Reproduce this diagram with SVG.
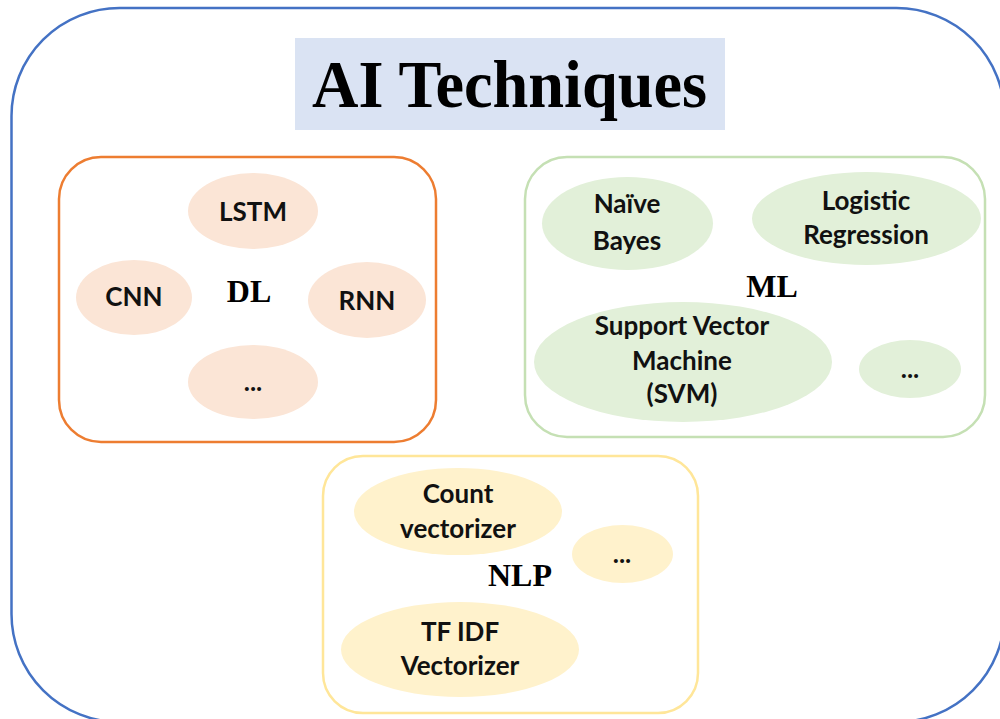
<svg xmlns="http://www.w3.org/2000/svg" width="1000" height="719" viewBox="0 0 1000 719">
  <style>
    .frame { fill: #ffffff; stroke: #4472C4; stroke-width: 2.5; }
    .title-bg { fill: #DAE3F3; }
    .title { font-family: "Liberation Serif", "Times New Roman", serif; font-weight: bold; font-size: 67px; fill: #000; }
    .group-label { font-family: "Liberation Serif", "Times New Roman", serif; font-weight: bold; font-size: 32px; fill: #000; text-anchor: middle; }
    .item { font-family: Lato, "Open Sans", "Liberation Sans", sans-serif; font-weight: bold; font-size: 26px; fill: #111; text-anchor: middle; }
    .box-dl { fill: #ffffff; stroke: #ED7D31; stroke-width: 2.5; }
    .box-ml { fill: #ffffff; stroke: #C5E0B4; stroke-width: 2.5; }
    .box-nlp { fill: #ffffff; stroke: #FFE699; stroke-width: 2.5; }
    .el-dl { fill: #FBE5D6; }
    .el-ml { fill: #E2F0D9; }
    .el-nlp { fill: #FFF2CC; }
  </style>

  <!-- outer frame -->
  <rect class="frame" x="11.5" y="8" width="993" height="714" rx="108" ry="108"/>

  <!-- title -->
  <g id="title">
    <rect class="title-bg" x="295" y="38" width="430" height="92"/>
    <text class="title" x="312" y="107" textLength="395" lengthAdjust="spacingAndGlyphs">AI Techniques</text>
  </g>

  <!-- connectors: none in this figure -->
  <g id="connectors"/>

  <!-- Deep learning group -->
  <g id="dl">
    <rect class="box-dl" x="59" y="157" width="377" height="285" rx="42" ry="42"/>
    <text class="group-label" x="249" y="302">DL</text>
    <g id="dl-lstm">
      <ellipse class="el-dl" cx="253" cy="211" rx="65" ry="38"/>
      <text class="item" x="253" y="221">LSTM</text>
    </g>
    <g id="dl-cnn">
      <ellipse class="el-dl" cx="134" cy="297.5" rx="58" ry="37.5"/>
      <text class="item" x="134" y="306">CNN</text>
    </g>
    <g id="dl-rnn">
      <ellipse class="el-dl" cx="367" cy="300" rx="59" ry="38"/>
      <text class="item" x="367" y="310">RNN</text>
    </g>
    <g id="dl-more">
      <ellipse class="el-dl" cx="253" cy="382" rx="65" ry="37"/>
      <text class="item" x="253" y="391">...</text>
    </g>
  </g>

  <!-- Machine learning group -->
  <g id="ml">
    <rect class="box-ml" x="525" y="157" width="460" height="280" rx="42" ry="42"/>
    <text class="group-label" x="772" y="297">ML</text>
    <g id="ml-nb">
      <ellipse class="el-ml" cx="627.5" cy="223.5" rx="85.5" ry="46.5"/>
      <text class="item" x="627" y="213">Naïve</text>
      <text class="item" x="627" y="250">Bayes</text>
    </g>
    <g id="ml-lr">
      <ellipse class="el-ml" cx="866.5" cy="218.5" rx="114.5" ry="46.5"/>
      <text class="item" x="866" y="210">Logistic</text>
      <text class="item" x="866" y="244">Regression</text>
    </g>
    <g id="ml-svm">
      <ellipse class="el-ml" cx="683" cy="362" rx="149" ry="60"/>
      <text class="item" x="682" y="335">Support Vector</text>
      <text class="item" x="682" y="370">Machine</text>
      <text class="item" x="682" y="403">(SVM)</text>
    </g>
    <g id="ml-more">
      <ellipse class="el-ml" cx="910" cy="369" rx="51" ry="29"/>
      <text class="item" x="910" y="378">...</text>
    </g>
  </g>

  <!-- NLP group -->
  <g id="nlp">
    <rect class="box-nlp" x="323" y="456" width="375" height="257" rx="40" ry="40"/>
    <text class="group-label" x="520" y="586">NLP</text>
    <g id="nlp-count">
      <ellipse class="el-nlp" cx="458" cy="511.5" rx="104" ry="43.5"/>
      <text class="item" x="458" y="503">Count</text>
      <text class="item" x="458" y="538">vectorizer</text>
    </g>
    <g id="nlp-more">
      <ellipse class="el-nlp" cx="622.5" cy="554" rx="50.5" ry="29"/>
      <text class="item" x="622" y="563">...</text>
    </g>
    <g id="nlp-tfidf">
      <ellipse class="el-nlp" cx="460" cy="649.5" rx="119" ry="47.5"/>
      <text class="item" x="460" y="641">TF IDF</text>
      <text class="item" x="460" y="675">Vectorizer</text>
    </g>
  </g>
</svg>
